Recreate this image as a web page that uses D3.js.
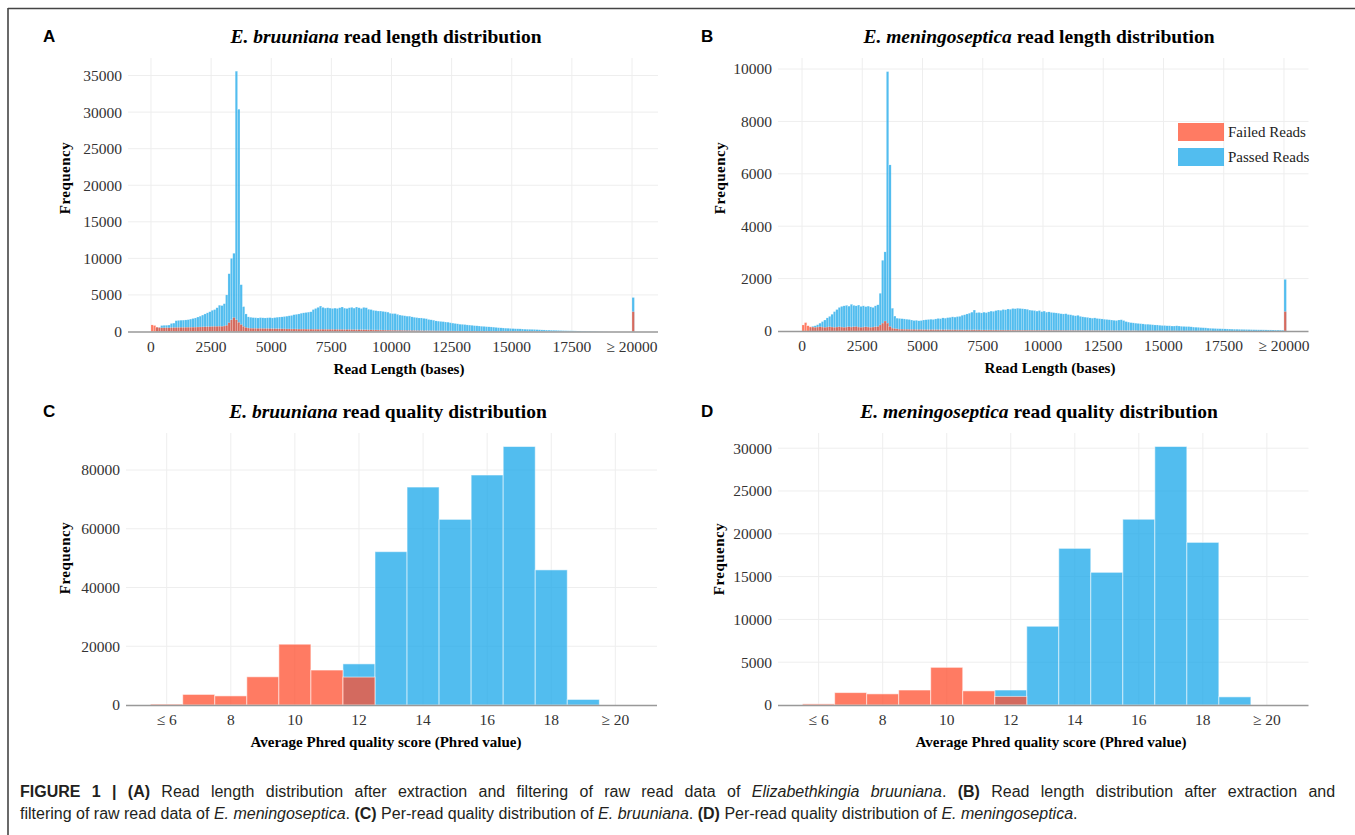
<!DOCTYPE html>
<html>
<head>
<meta charset="utf-8">
<script src="https://cdn.jsdelivr.net/npm/d3@7"></script>
<style>
body{margin:0;background:#fff;}
svg text{font-family:"Liberation Serif","Times New Roman",serif;}
</style>
</head>
<body>
<div id="svg_placer"></div>
<script>
var
width = 1355,
height = 835,
passColor = '#18a7ea',
failColor = '#ff4f2f',
barOpacity = 0.75
;

// read length bins: 100 bases each, 0..19900, last one is >= 20000
var lenBins = d3.range(0, 20100, 100);
var lenTicks = [0, 2500, 5000, 7500, 10000, 12500, 15000, 17500, 20000];

var bruLenPassed = [
0,0,560,580,820,850,860,880,1100,1150,
1480,1520,1550,1560,1580,1620,1700,1780,1850,1980,
2100,2250,2400,2550,2700,2900,3000,3250,3600,3550,
3800,5000,7900,10000,10700,35600,30400,6400,3400,2400,
2000,1950,1900,1880,1850,1900,1870,1850,1880,1900,
1850,1900,1950,1980,2000,2050,2100,2150,2200,2300,
2350,2400,2500,2550,2600,2650,2700,3000,3150,3300,
3480,3300,3200,3250,3200,3150,3200,3150,3250,3350,
3200,3150,3250,3300,3200,3350,3250,3150,3300,3250,
3050,3000,2900,2850,2800,2800,2750,2700,2650,2500,
2450,2450,2350,2250,2200,2150,2100,2100,2000,1950,
1900,1850,1850,1800,1750,1650,1600,1550,1450,1420,
1380,1350,1300,1280,1200,1150,1100,1050,1000,980,
950,900,880,850,800,780,750,720,700,660,
640,620,600,560,520,500,480,460,450,420,
400,380,370,360,340,320,310,300,290,280,
260,240,220,210,200,190,180,170,160,150,
130,120,110,100,100,90,80,70,70,60,
60,50,50,40,40,30,20,20,10,10,
0,0,0,0,0,0,0,0,0,0,
4650];

var bruLenFailed = [
900,820,600,520,500,500,510,500,520,530,
540,550,560,560,570,580,580,590,600,610,
620,630,640,650,660,680,700,700,720,700,
750,850,1200,1600,1900,1600,1250,950,700,550,
480,450,440,430,420,420,410,400,400,390,
380,380,370,370,360,360,350,350,340,340,
340,330,330,330,320,320,320,310,310,300,
300,300,290,290,290,280,280,280,270,270,
260,260,260,250,250,240,240,240,230,230,
220,220,210,210,200,200,190,190,180,180,
170,170,160,160,150,150,140,140,130,130,
120,120,110,110,100,100,95,90,90,85,
80,80,75,70,70,65,60,60,55,50,
50,45,45,40,40,40,35,35,30,30,
30,25,25,25,20,20,20,20,15,15,
15,15,10,10,10,10,10,10,5,5,
5,5,5,5,5,5,0,0,0,0,
0,0,0,0,0,0,0,0,0,0,
0,0,0,0,0,0,0,0,0,0,
0,0,0,0,0,0,0,0,0,0,
2700];

var menLenPassed = [
0,0,0,120,180,200,240,300,360,420,
500,560,640,740,820,900,940,960,980,950,
1020,980,960,990,940,960,930,950,920,900,
960,1000,1440,2700,3020,9900,6340,870,570,490,
480,470,460,450,440,420,400,410,390,400,
420,430,440,450,440,460,480,470,500,490,
510,520,540,530,550,560,600,620,650,680,
720,800,700,710,690,720,700,730,760,750,
780,800,790,820,810,840,830,860,850,870,
860,850,840,830,800,790,780,760,780,740,
760,720,730,710,700,690,680,660,650,660,
630,620,600,580,600,560,540,530,520,500,
490,500,480,470,460,450,440,430,420,410,
400,420,430,400,360,340,320,310,300,290,
280,270,260,260,250,240,230,230,220,210,
210,200,200,190,190,200,190,180,175,170,
170,160,150,145,140,130,125,120,110,105,
100,95,90,88,85,80,78,75,72,70,
68,65,62,60,58,55,52,50,48,46,
45,44,42,40,40,38,36,35,34,32,
1970];

var menLenFailed = [
230,320,200,160,150,140,150,160,150,140,
150,160,150,140,150,160,150,140,150,160,
150,160,170,150,140,150,160,150,140,150,
160,170,230,300,380,300,170,110,90,80,
70,70,65,65,60,60,60,55,55,55,
50,50,50,50,50,48,48,46,46,45,
45,44,44,43,42,42,41,40,40,40,
40,45,40,40,38,38,38,38,36,36,
36,35,35,35,34,34,33,33,32,32,
30,30,30,29,28,28,27,27,26,26,
25,25,24,24,23,22,22,21,20,20,
19,18,18,17,17,16,16,15,15,14,
14,13,13,12,12,11,11,10,10,10,
9,9,9,8,8,8,7,7,7,6,
6,6,5,5,5,5,4,4,4,4,
3,3,3,3,3,2,2,2,2,2,
2,2,1,1,1,1,1,1,1,1,
0,0,0,0,0,0,0,0,0,0,
0,0,0,0,0,0,0,0,0,0,
0,0,0,0,0,0,0,0,0,0,
740];

// quality bins: <=6, 7..19, >=20
var qualBins = [6,7,8,9,10,11,12,13,14,15,16,17,18,19,20];
var qualTicks = [6,8,10,12,14,16,18,20];
var bruQualPassed = [0,0,0,0,0,0,14000,52200,74200,63200,78300,88000,46000,1900,0];
var bruQualFailed = [300,3600,3100,9600,20700,11900,9500,0,0,0,0,0,0,0,0];
var menQualPassed = [0,0,0,0,0,0,1750,9200,18300,15500,21700,30200,19000,950,0];
var menQualFailed = [130,1450,1300,1750,4400,1650,1000,0,0,0,0,0,0,0,0];

var svg = d3.select('#svg_placer').append('svg').attr('width',width).attr('height',height);

// outer frame (top and left edge visible)
svg.append('line').attr('x1',8).attr('x2',width).attr('y1',8.5).attr('y2',8.5)
    .attr('stroke','#444').attr('stroke-width',1.6);
svg.append('line').attr('x1',8).attr('x2',8).attr('y1',8).attr('y2',height)
    .attr('stroke','#444').attr('stroke-width',1.6);

function panel(p){
    var g = svg.append('g');
    var x = d3.scaleLinear().domain(p.xDomain).range([p.left,p.right]);
    var y = d3.scaleLinear().domain([0,p.yMax]).range([p.bottom,p.top]);

    // grid
    g.selectAll('line.hg').data(p.yTicks.filter(function(t){return t>0;}))
        .enter().append('line')
        .attr('x1',p.left).attr('x2',p.right)
        .attr('y1',function(t){return y(t);}).attr('y2',function(t){return y(t);})
        .attr('stroke','#eeeeee').attr('stroke-width',1);
    g.selectAll('line.vg').data(p.xTicks)
        .enter().append('line')
        .attr('x1',function(t){return x(t);}).attr('x2',function(t){return x(t);})
        .attr('y1',p.top).attr('y2',p.bottom)
        .attr('stroke','#eeeeee').attr('stroke-width',1);

    // bars, passed first then failed on top (overlay)
    [[p.passed,passColor],[p.failed,failColor]].forEach(function(s){
        g.append('g').selectAll('rect')
            .data(p.bins.map(function(b,i){return {b:b, v:s[0][i]};}).filter(function(d){return d.v>0;}))
            .enter().append('rect')
            .attr('x',function(d){return x(d.b+p.off);})
            .attr('width',function(d){return x(d.b+p.off+p.binW)-x(d.b+p.off);})
            .attr('y',function(d){return y(d.v);})
            .attr('height',function(d){return y(0)-y(d.v);})
            .attr('fill',s[1]).attr('fill-opacity',barOpacity)
            .attr('stroke','#fff').attr('stroke-opacity',0.55).attr('stroke-width',p.stroke);
    });

    // x axis line
    g.append('line').attr('x1',p.left).attr('x2',p.right)
        .attr('y1',p.bottom+0.5).attr('y2',p.bottom+0.5)
        .attr('stroke','#999').attr('stroke-width',1.6);

    // tick labels
    g.selectAll('text.yt').data(p.yTicks).enter().append('text')
        .attr('x',p.left-6).attr('y',function(t){return y(t);}).attr('dy','0.35em')
        .attr('text-anchor','end').attr('font-size',15.5).attr('fill','#333')
        .text(function(t){return t;});
    g.selectAll('text.xt').data(p.xTicks).enter().append('text')
        .attr('x',function(t){return x(t);}).attr('y',p.bottom+20)
        .attr('text-anchor','middle').attr('font-size',15.5).attr('fill','#333')
        .text(p.xFmt);

    // titles
    g.append('text').attr('x',p.xTitleX).attr('y',p.bottom+42)
        .attr('text-anchor','middle').attr('font-size',15).attr('font-weight','bold')
        .text(p.xTitle);
    g.append('text').attr('transform','translate('+p.yTitleX+','+p.yTitleY+') rotate(-90)')
        .attr('text-anchor','middle').attr('font-size',15).attr('font-weight','bold')
        .attr('letter-spacing',0.5).text('Frequency');
    var t = g.append('text').attr('x',p.titleX).attr('y',p.titleY)
        .attr('text-anchor','middle').attr('font-size',19.5).attr('font-weight','bold');
    t.append('tspan').attr('font-style','italic').text(p.species);
    t.append('tspan').text(' ' + p.titleRest);
    g.append('text').attr('x',p.labelX).attr('y',p.titleY-1)
        .style('font-family','"Liberation Sans",Arial,sans-serif')
        .attr('font-size',17).attr('font-weight','bold').text(p.label);
    return {x:x, y:y};
}

function lenFmt(t){ return t === 20000 ? '\u2265 20000' : t; }
function qualFmt(t){ return t === 6 ? '\u2264 6' : (t === 20 ? '\u2265 20' : t); }

panel({label:'A', labelX:43, species:'E. bruuniana', titleRest:'read length distribution',
    titleX:386, titleY:43, left:128, right:658, top:58, bottom:331.5,
    xDomain:[-956,21081], yMax:37400, yTicks:d3.range(0,35001,5000),
    xTicks:lenTicks, xFmt:lenFmt, bins:lenBins, binW:100, off:0, stroke:0.35,
    passed:bruLenPassed, failed:bruLenFailed,
    xTitle:'Read Length (bases)', xTitleX:399, yTitleX:70, yTitleY:178});

panel({label:'B', labelX:701, species:'E. meningoseptica', titleRest:'read length distribution',
    titleX:1039, titleY:43, left:778, right:1308.5, top:58, bottom:331,
    xDomain:[-996,21017], yMax:10420, yTicks:d3.range(0,10001,2000),
    xTicks:lenTicks, xFmt:lenFmt, bins:lenBins, binW:100, off:0, stroke:0.35,
    passed:menLenPassed, failed:menLenFailed,
    xTitle:'Read Length (bases)', xTitleX:1050, yTitleX:725, yTitleY:178});

panel({label:'C', labelX:43, species:'E. bruuniana', titleRest:'read quality distribution',
    titleX:388, titleY:418, left:126, right:657, top:433, bottom:705,
    xDomain:[4.73,21.3], yMax:92600, yTicks:d3.range(0,80001,20000),
    xTicks:qualTicks, xFmt:qualFmt, bins:qualBins, binW:1, off:-0.5, stroke:1,
    passed:bruQualPassed, failed:bruQualFailed,
    xTitle:'Average Phred quality score (Phred value)', xTitleX:386, yTitleX:70, yTitleY:558});

panel({label:'D', labelX:701, species:'E. meningoseptica', titleRest:'read quality distribution',
    titleX:1039, titleY:418, left:778, right:1308.5, top:433, bottom:705,
    xDomain:[4.73,21.3], yMax:31775, yTicks:d3.range(0,30001,5000),
    xTicks:qualTicks, xFmt:qualFmt, bins:qualBins, binW:1, off:-0.5, stroke:1,
    passed:menQualPassed, failed:menQualFailed,
    xTitle:'Average Phred quality score (Phred value)', xTitleX:1051, yTitleX:724, yTitleY:559});

// legend for panel B
var legend = svg.append('g');
[['Failed Reads',failColor,123],['Passed Reads',passColor,148]].forEach(function(l){
    legend.append('rect').attr('x',1178).attr('y',l[2]).attr('width',46).attr('height',18)
        .attr('fill',l[1]).attr('fill-opacity',barOpacity);
    legend.append('text').attr('x',1228).attr('y',l[2]+14).attr('font-size',15)
        .attr('fill','#222').text(l[0]);
});

// caption, first line justified to the right edge
var capLines = [
    [['b','FIGURE 1 | '],['b','(A)'],['n',' Read length distribution after extraction and filtering of raw read data of '],
     ['i','Elizabethkingia bruuniana'],['n','. '],['b','(B)'],['n',' Read length distribution after extraction and']],
    [['n','filtering of raw read data of '],['i','E. meningoseptica'],['n','. '],['b','(C)'],
     ['n',' Per-read quality distribution of '],['i','E. bruuniana'],['n','. '],['b','(D)'],
     ['n',' Per-read quality distribution of '],['i','E. meningoseptica'],['n','.']]
];
capLines.forEach(function(line,k){
    var t = svg.append('text').attr('x',20).attr('y',797+k*22)
        .style('font-family','"Liberation Sans",Arial,sans-serif')
        .attr('font-size',16).attr('fill','#231f20');
    line.forEach(function(s){
        var sp = t.append('tspan').text(s[1]);
        if (s[0]=='b') sp.attr('font-weight','bold');
        if (s[0]=='i') sp.attr('font-style','italic');
    });
    if (k == 0){
        var len = t.node().getComputedTextLength();
        var spaces = line.map(function(s){return s[1];}).join('').split(' ').length - 1;
        t.attr('word-spacing', ((1335 - 20 - len)/spaces).toFixed(2));
    }
});
</script>
</body>
</html>
